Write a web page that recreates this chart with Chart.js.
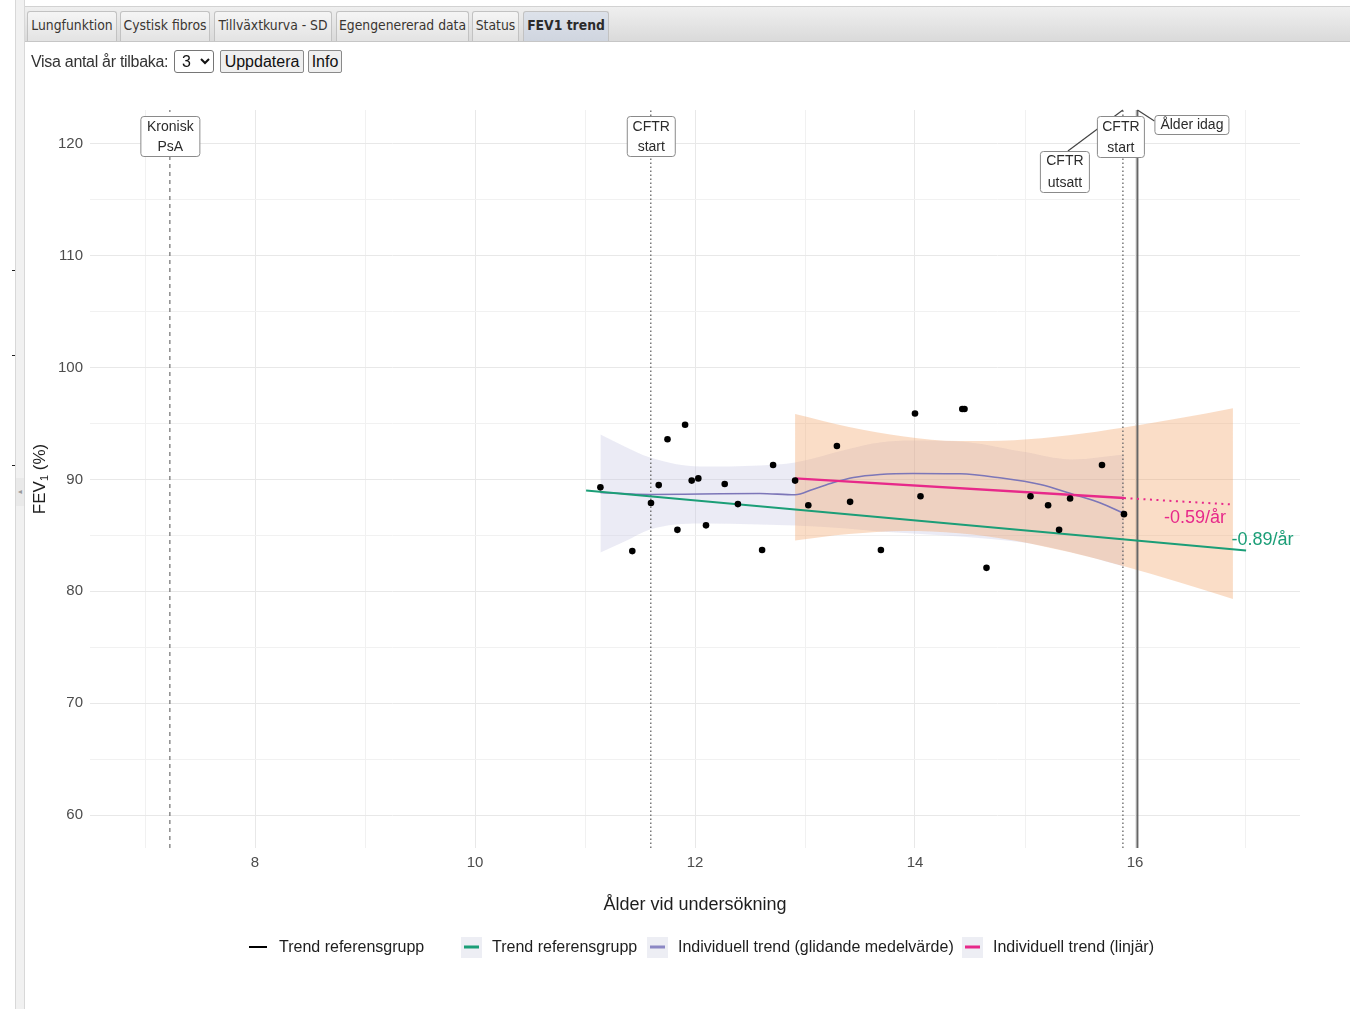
<!DOCTYPE html>
<html>
<head>
<meta charset="utf-8">
<title>FEV1 trend</title>
<script src="https://cdn.jsdelivr.net/npm/chart.js@4/dist/chart.umd.min.js"></script>
<style>
  html, body { margin: 0; padding: 0; background: #fff; width: 1350px; height: 1009px; overflow: hidden; }
  body { font-family: "Liberation Sans", Arial, sans-serif; }
  #wrap { position: relative; width: 1350px; height: 1009px; }
  #fev { position: absolute; left: 0; top: 0; }
  .side { position: absolute; left: 15px; top: 0; width: 8px; height: 1009px; background: #f1f1f1;
          border-left: 1px solid #d8d8d8; border-right: 1px solid #d8d8d8; }
  .handle { position: absolute; left: 16px; top: 478px; width: 8px; height: 28px; background: #e9e9e9;
            color: #999; font-size: 8px; line-height: 28px; text-align: center; }
  .mark { position: absolute; left: 12px; width: 3px; height: 1px; background: #222; }
  .tabbar { position: absolute; left: 25px; top: 6px; width: 1325px; height: 34px;
            background: linear-gradient(#efefef, #dadada); border-top: 1px solid #d2d2d2; border-bottom: 1px solid #c6c6c6; }
  .tab { position: absolute; top: 4px; height: 30px; box-sizing: border-box;
         border: 1px solid #c2c2c2; border-bottom: none; border-radius: 3px 3px 0 0;
         background: linear-gradient(#f5f5f5, #e3e3e3);
         font: 13.8px "DejaVu Sans Condensed", "DejaVu Sans", sans-serif; line-height: 27px; color: #3a3632;
         text-align: center; white-space: nowrap; overflow: hidden; }
  .tab.on { background: linear-gradient(#dde2ea, #cfd5df); font-weight: bold; color: #2b2b2b; }
  .ctrl { position: absolute; top: 50px; height: 23px; box-sizing: border-box; font: 16px "Liberation Sans", Arial, sans-serif; }
  .lbl { left: 31px; top: 51px; color: #333; line-height: 21px; letter-spacing: -0.3px; }
  select.ctrl { left: 174px; width: 40px; padding: 0 0 0 3px; border: 1px solid #767676; border-radius: 3px; background: #fff; color: #111; }
  button.ctrl { background: #efefef; border: 1px solid #8a8a8a; border-radius: 2px; padding: 0 1px; color: #111; line-height: 20px; }
</style>
</head>
<body>
<div id="wrap">
  <canvas id="fev" width="1350" height="1009"></canvas>
  <div class="side"></div>
  <div class="handle">&#9666;</div>
  <div class="mark" style="top:270px"></div>
  <div class="mark" style="top:355px"></div>
  <div class="mark" style="top:465px"></div>
  <div class="tabbar">
    <div class="tab" style="left:2px;width:90px">Lungfunktion</div>
    <div class="tab" style="left:95px;width:90px">Cystisk fibros</div>
    <div class="tab" style="left:189px;width:118px">Tillväxtkurva - SD</div>
    <div class="tab" style="left:311px;width:133px">Egengenererad data</div>
    <div class="tab" style="left:447px;width:47px">Status</div>
    <div class="tab on" style="left:498px;width:86px">FEV1 trend</div>
  </div>
  <div class="ctrl lbl">Visa antal år tilbaka:</div>
  <select class="ctrl"><option>1</option><option>2</option><option selected>3</option><option>5</option></select>
  <button class="ctrl" style="left:220px;width:84px">Uppdatera</button>
  <button class="ctrl" style="left:308px;width:34px">Info</button>
</div>

<script>
// Axis extents and tick positions
const ageRange = [6.5, 17.5];
const fevRange = [57.05, 123.04];
const ageGrid = [7, 8, 9, 10, 11, 12, 13, 14, 15, 16, 17];
const ageTickLabels = [8, 10, 12, 14, 16];
const fevGrid = [60, 65, 70, 75, 80, 85, 90, 95, 100, 105, 110, 115, 120];
const fevTickLabels = [60, 70, 80, 90, 100, 110, 120];

// Individual measurements (age in years, FEV1 % predicted)
const visitAge = [11.14, 11.43, 11.60, 11.67, 11.75, 11.84, 11.91, 11.97, 12.03, 12.10,
                  12.27, 12.39, 12.61, 12.71, 12.91, 13.03, 13.29, 13.41, 13.69, 14.00,
                  14.05, 14.43, 14.45, 14.65, 15.05, 15.21, 15.31, 15.41, 15.70, 15.90];
const visitFev = [89.3, 83.6, 87.9, 89.5, 93.6, 85.5, 94.9, 89.9, 90.1, 85.9,
                  89.6, 87.8, 83.7, 91.3, 89.9, 87.7, 93.0, 88.0, 83.7, 95.9,
                  88.5, 96.3, 96.3, 82.1, 88.5, 87.7, 85.5, 88.3, 91.3, 86.9];

// Reference group trend
const refTrendAge = [11.01, 17.01];
const refTrendFev = [89.02, 83.66];
const refSlopeText = '-0.89/år';
const refSlopeAt = [17.16, 84.55];

// Individual linear trend and its projection
const linAge = [12.91, 15.90];
const linFev = [90.10, 88.34];
const projAge = [15.90, 16.89];
const projFev = [88.34, 87.76];
const linSlopeText = '-0.59/år';
const linSlopeAt = [16.545, 86.55];

// Confidence band of the linear trend
const linBandAge = [12.91, 13.40, 13.90, 14.40, 14.90, 15.40, 15.90, 16.40, 16.89];
const linBandHi  = [95.85, 94.70, 93.85, 93.44, 93.51, 93.95, 94.64, 95.47, 96.38];
const linBandLo  = [84.55, 85.12, 85.39, 85.20, 84.55, 83.51, 82.24, 80.81, 79.32];

// Moving-average (loess) trend and its band
const loessAge = [11.14, 11.59, 12.05, 12.59, 12.91, 13.07, 13.26, 13.44, 13.68, 13.98,
                  14.41, 14.77, 15.14, 15.44, 15.68, 15.90];
const loessFev = [88.84, 88.66, 88.70, 88.75, 88.63, 89.11, 89.73, 90.18, 90.45, 90.54,
                  90.51, 90.15, 89.55, 88.66, 87.92, 86.96];
const loessBandAge = [11.14, 11.36, 11.59, 12.05, 12.59, 12.91, 13.38, 13.68, 13.98, 14.41, 14.97, 15.43, 15.90];
const loessBandHi  = [94.02, 92.95, 91.96, 91.16, 91.25, 91.52, 92.68, 93.30, 93.48, 93.39, 92.50, 91.79, 92.23];
const loessBandLo  = [83.48, 84.46, 85.54, 86.07, 85.98, 85.89, 85.63, 85.36, 85.18, 84.91, 84.38, 83.48, 82.23];

// Events on the age axis
const eventAge = [7.226, 11.598, 15.89, 16.022];
const eventText = [['Kronisk', 'PsA'], ['CFTR', 'start'], ['CFTR', 'start'], ['CFTR', 'utsatt'], ['Ålder idag']];

const legendText = ['Trend referensgrupp', 'Trend referensgrupp',
                    'Individuell trend (glidande medelvärde)', 'Individuell trend (linjär)'];

const GREEN = '#1B9E77', PINK = '#E7298A', PURPLE = '#7C76B8', EVENT = '#6f6f6f';
const FONT = '"Liberation Sans", Arial, sans-serif';

const pts = (xs, ys) => xs.map((x, i) => ({ x, y: ys[i] }));
const vline = a => [{ x: a, y: fevRange[0] }, { x: a, y: fevRange[1] }];

const base = { pointRadius: 0, pointHoverRadius: 0, tension: 0, fill: false };

const datasets = [
  { ...base, label: 'visits', data: pts(visitAge, visitFev), showLine: false,
    pointRadius: 3.3, pointBackgroundColor: '#000', pointBorderWidth: 0 },
  { ...base, label: legendText[3], data: pts(linAge, linFev), borderColor: PINK, borderWidth: 2.4 },
  { ...base, label: 'projection', data: pts(projAge, projFev), borderColor: PINK, borderWidth: 2, borderDash: [2, 4.5] },
  { ...base, label: legendText[1], data: pts(refTrendAge, refTrendFev), borderColor: GREEN, borderWidth: 2 },
  { ...base, label: legendText[2], data: pts(loessAge, loessFev), borderColor: PURPLE, borderWidth: 1.6,
    cubicInterpolationMode: 'monotone' },
  { ...base, label: eventText[0].join(' '), data: vline(eventAge[0]), borderColor: EVENT, borderWidth: 1.2, borderDash: [4, 4] },
  { ...base, label: eventText[1].join(' '), data: vline(eventAge[1]), borderColor: EVENT, borderWidth: 1.4, borderDash: [1.5, 2.5] },
  { ...base, label: eventText[3].join(' '), data: vline(eventAge[2]), borderColor: EVENT, borderWidth: 1.4, borderDash: [1.5, 2.5] },
  { ...base, label: eventText[4].join(' '), data: vline(eventAge[3]), borderColor: '#666', borderWidth: 2 },
  { ...base, label: 'linHi', data: pts(linBandAge, linBandHi), borderWidth: 0, borderColor: 'rgba(0,0,0,0)',
    cubicInterpolationMode: 'monotone', fill: '+1', backgroundColor: 'rgba(240,160,100,0.36)' },
  { ...base, label: 'linLo', data: pts(linBandAge, linBandLo), borderWidth: 0, borderColor: 'rgba(0,0,0,0)',
    cubicInterpolationMode: 'monotone' },
  { ...base, label: 'loessHi', data: pts(loessBandAge, loessBandHi), borderWidth: 0, borderColor: 'rgba(0,0,0,0)',
    cubicInterpolationMode: 'monotone', fill: '+1', backgroundColor: 'rgba(200,200,228,0.36)' },
  { ...base, label: 'loessLo', data: pts(loessBandAge, loessBandLo), borderWidth: 0, borderColor: 'rgba(0,0,0,0)',
    cubicInterpolationMode: 'monotone' }
];

function box(ctx, cx, top, w, h, lines, lineTops) {
  const l = cx - w / 2;
  ctx.beginPath();
  ctx.roundRect(l + 0.5, top + 0.5, w, h, 3);
  ctx.fillStyle = '#fff';
  ctx.fill();
  ctx.strokeStyle = '#8a8a8a';
  ctx.lineWidth = 1;
  ctx.stroke();
  ctx.fillStyle = '#2b2b2b';
  ctx.font = '14px ' + FONT;
  ctx.textAlign = 'center';
  ctx.textBaseline = 'middle';
  lines.forEach((t, i) => ctx.fillText(t, cx + 0.5, top + lineTops[i]));
}

function seg(ctx, x1, y1, x2, y2) {
  ctx.beginPath();
  ctx.moveTo(x1, y1);
  ctx.lineTo(x2, y2);
  ctx.strokeStyle = '#444';
  ctx.lineWidth = 1.2;
  ctx.stroke();
}

const overlay = {
  id: 'overlay',
  afterDatasetsDraw(chart) {
    const { ctx, chartArea: a, scales: { x, y } } = chart;
    ctx.save();

    // slope labels
    ctx.font = '18px ' + FONT;
    ctx.textAlign = 'center';
    ctx.textBaseline = 'middle';
    ctx.fillStyle = PINK;
    ctx.fillText(linSlopeText, x.getPixelForValue(linSlopeAt[0]), y.getPixelForValue(linSlopeAt[1]));
    ctx.fillStyle = GREEN;
    ctx.fillText(refSlopeText, x.getPixelForValue(refSlopeAt[0]), y.getPixelForValue(refSlopeAt[1]));

    // event annotations
    const e = eventAge.map(v => x.getPixelForValue(v));
    const t = a.top;
    box(ctx, e[0], t + 6, 59, 40, eventText[0], [11, 31]);
    box(ctx, e[1], t + 6, 48, 40, eventText[1], [11, 31]);
    seg(ctx, e[2] - 55, t + 41, e[2], t);
    box(ctx, e[2] - 58.5, t + 41, 49, 41, eventText[3], [10.5, 32]);
    box(ctx, e[2] - 2.5, t + 6, 47, 41, eventText[2], [11, 32.5]);
    seg(ctx, e[3], t, e[3] + 17, t + 11);
    box(ctx, e[3] + 54, t + 5, 74, 19, eventText[4], [10.5]);

    // axis titles
    ctx.fillStyle = '#1e1e1e';
    ctx.font = '18px ' + FONT;
    ctx.textAlign = 'center';
    ctx.textBaseline = 'middle';
    ctx.fillText('Ålder vid undersökning', (a.left + a.right) / 2, 905);

    ctx.save();
    ctx.translate(40, (a.top + a.bottom) / 2);
    ctx.rotate(-Math.PI / 2);
    ctx.font = '17px ' + FONT;
    const w1 = ctx.measureText('FEV').width;
    ctx.font = '11px ' + FONT;
    const w2 = ctx.measureText('1').width;
    ctx.font = '17px ' + FONT;
    const w3 = ctx.measureText(' (%)').width;
    let sx = -(w1 + w2 + w3) / 2;
    ctx.textAlign = 'left';
    ctx.textBaseline = 'middle';
    ctx.fillText('FEV', sx, 0);
    ctx.font = '11px ' + FONT;
    ctx.fillText('1', sx + w1, 5);
    ctx.font = '17px ' + FONT;
    ctx.fillText(' (%)', sx + w1 + w2, 0);
    ctx.restore();

    // legend
    const ly = 948;
    ctx.font = '16px ' + FONT;
    ctx.textAlign = 'left';
    ctx.textBaseline = 'middle';
    const items = [
      { x0: 249, color: '#000', bg: false },
      { x0: 461, color: GREEN, bg: true },
      { x0: 647, color: '#8C88C4', bg: true },
      { x0: 962, color: PINK, bg: true }
    ];
    items.forEach((it, i) => {
      if (it.bg) {
        ctx.fillStyle = '#EDEEF4';
        ctx.fillRect(it.x0, ly - 11, 21, 21);
        ctx.fillStyle = it.color;
        ctx.fillRect(it.x0 + 3, ly - 2.5, 15, 3);
        ctx.fillStyle = '#1e1e1e';
        ctx.fillText(legendText[i], it.x0 + 31, ly);
      } else {
        ctx.fillStyle = it.color;
        ctx.fillRect(it.x0, ly - 2, 18, 2);
        ctx.fillStyle = '#1e1e1e';
        ctx.fillText(legendText[i], it.x0 + 30, ly);
      }
    });
    ctx.restore();
  }
};

new Chart(document.getElementById('fev'), {
  type: 'line',
  data: { datasets },
  plugins: [overlay],
  options: {
    responsive: false,
    animation: false,
    events: [],
    layout: { padding: { left: 0, top: 110, right: 50, bottom: 0 } },
    plugins: { legend: { display: false }, tooltip: { enabled: false } },
    scales: {
      x: {
        type: 'linear', min: ageRange[0], max: ageRange[1],
        afterFit: s => { s.height = 161; },
        afterBuildTicks: s => { s.ticks = ageGrid.map(v => ({ value: v })); },
        border: { display: false },
        grid: { drawTicks: false, lineWidth: 1,
                color: c => ageTickLabels.includes(c.tick && c.tick.value) ? '#E8E8E8' : '#F1F1F1' },
        ticks: { autoSkip: false, maxRotation: 0, padding: 6, color: '#4d4d4d',
                 font: { family: FONT, size: 15 },
                 callback: v => ageTickLabels.includes(v) ? String(v) : '' }
      },
      y: {
        type: 'linear', min: fevRange[0], max: fevRange[1],
        afterFit: s => { s.width = 90; },
        afterBuildTicks: s => { s.ticks = fevGrid.map(v => ({ value: v })); },
        border: { display: false },
        grid: { drawTicks: false, lineWidth: 1,
                color: c => fevTickLabels.includes(c.tick && c.tick.value) ? '#E8E8E8' : '#F1F1F1' },
        ticks: { autoSkip: false, padding: 7, color: '#4d4d4d',
                 font: { family: FONT, size: 15 },
                 callback: v => fevTickLabels.includes(v) ? String(v) : '' }
      }
    }
  }
});
</script>
</body>
</html>
